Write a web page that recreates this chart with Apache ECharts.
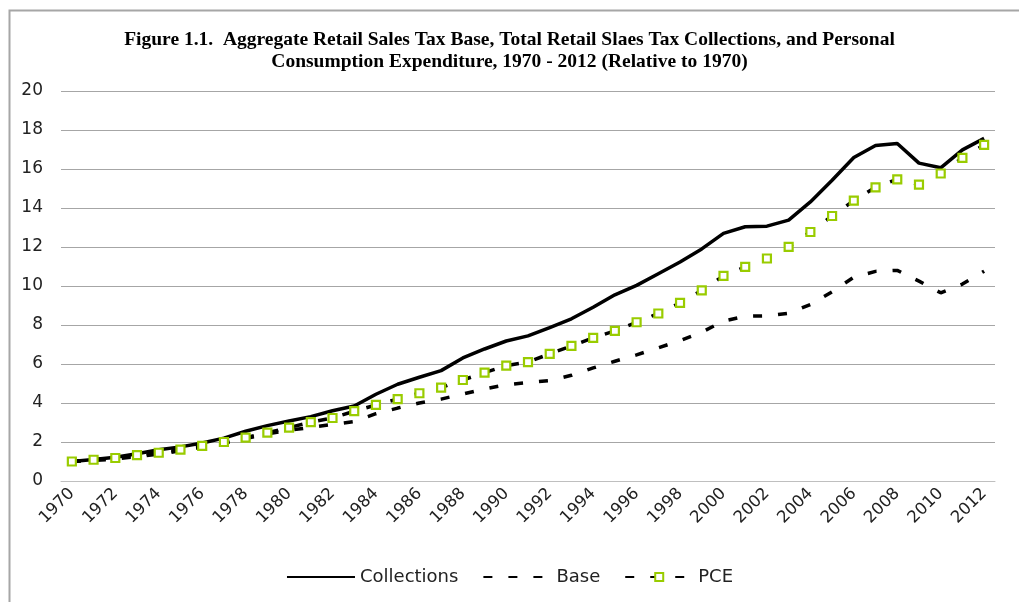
<!DOCTYPE html>
<html>
<head>
<meta charset="utf-8">
<script src="https://cdn.jsdelivr.net/npm/echarts@6/dist/echarts.min.js"></script>
<style>
html,body{margin:0;padding:0;background:#fff;}
#chart{width:1019px;height:602px;}
</style>
</head>
<body>
<div id="chart"></div>
<script>
const titleText = 'Figure 1.1.  Aggregate Retail Sales Tax Base, Total Retail Slaes Tax Collections, and Personal\nConsumption Expenditure, 1970 - 2012 (Relative to 1970)';
const years = [];
for (let y = 1970; y <= 2012; y++) years.push(String(y));
const collections = [1.0,1.1,1.22,1.4,1.6,1.75,1.95,2.2,2.55,2.84,3.08,3.3,3.6,3.85,4.45,
  4.96,5.32,5.66,6.31,6.77,7.18,7.44,7.87,8.32,8.91,9.55,10.03,10.63,
  11.23,11.9,12.7,13.04,13.07,13.38,14.31,15.42,16.59,17.21,17.31,16.3,16.06,16.98,17.57];
const base = [1.0,1.05,1.13,1.25,1.38,1.55,1.72,1.93,2.18,2.42,2.6,2.75,2.9,3.05,3.45,
  3.74,4.0,4.2,4.46,4.72,4.94,5.05,5.15,5.42,5.8,6.14,6.47,6.83,
  7.2,7.63,8.2,8.45,8.47,8.6,9.05,9.7,10.45,10.75,10.8,10.25,9.65,10.1,10.76];
const pce = [1.0,1.09,1.18,1.33,1.45,1.61,1.8,2.0,2.22,2.48,2.74,3.02,3.23,3.58,3.9,
  4.2,4.5,4.79,5.18,5.56,5.92,6.1,6.52,6.93,7.34,7.7,8.14,8.59,
  9.13,9.78,10.52,10.98,11.41,12.01,12.77,13.59,14.38,15.06,15.47,15.2,15.77,16.57,17.24];
const seriesNames = ['Collections','Base','PCE'];

const chart = echarts.init(document.getElementById('chart'), null, {renderer:'canvas'});
const labelFont = '"DejaVu Sans", sans-serif';
chart.setOption({
  animation: false,
  backgroundColor: '#fff',
  graphic: [{
    type: 'rect', left: 7, top: 8,
    shape: {width: 1100, height: 700},
    style: {fill: 'none', stroke: '#a6a6a6', lineWidth: 2},
    silent: true, z: -10
  }],
  title: {
    text: titleText,
    left: 'center', top: 24,
    textStyle: {fontFamily: '"Liberation Serif", serif', fontWeight: 'bold', fontSize: 19.5, lineHeight: 22, color: '#000'}
  },
  grid: {left: 61, right: 24, top: 91, bottom: 121},
  legend: {
    top: 563, left: 'center',
    itemWidth: 68, itemHeight: 10, itemGap: 24,
    textStyle: {fontFamily: labelFont, fontSize: 18, color: '#222'},
    data: seriesNames
  },
  xAxis: {
    type: 'category', data: years, boundaryGap: true,
    axisLine: {show: true, lineStyle: {color: '#bfbfbf', width: 1}},
    axisTick: {show: false},
    axisLabel: {interval: 1, rotate: 45, fontFamily: labelFont, fontSize: 16.5, color: '#222', margin: 10}
  },
  yAxis: {
    type: 'value', min: 0, max: 20, interval: 2,
    axisLine: {show: false}, axisTick: {show: false},
    splitLine: {lineStyle: {color: '#a6a6a6', width: 1}},
    axisLabel: {fontFamily: labelFont, fontSize: 17, color: '#222', margin: 18}
  },
  series: [
    {name: 'Collections', type: 'line', data: collections, symbol: 'none',
     lineStyle: {color: '#000', width: 3.5}, itemStyle: {color: 'rgba(0,0,0,0)'}},
    {name: 'Base', type: 'line', data: base, symbol: 'none',
     lineStyle: {color: '#000', width: 3.5, type: [9, 16]}, itemStyle: {color: 'rgba(0,0,0,0)'}},
    {name: 'PCE', type: 'line', data: pce, symbol: 'rect', symbolSize: 8,
     lineStyle: {color: '#000', width: 3.5, type: [9, 16]},
     itemStyle: {color: '#fff', borderColor: '#99cc00', borderWidth: 2.2}}
  ]
});
</script>
</body>
</html>
